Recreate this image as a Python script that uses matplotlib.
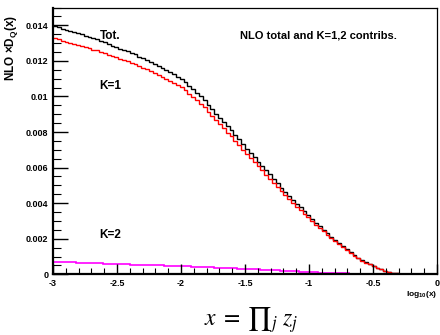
import numpy as np
import matplotlib
matplotlib.use("Agg")
import matplotlib.pyplot as plt
from matplotlib.ticker import MultipleLocator, FixedLocator, FixedFormatter

# ---------------- data ----------------
x_lo, x_hi, n_bins = -3.0, 0.0, 100

tot = [
    0.01398, 0.01392, 0.01380, 0.01376, 0.01368, 0.01362, 0.01355, 0.01350, 0.01340, 0.01334,
    0.01326, 0.01322, 0.01310, 0.01305, 0.01295, 0.01286, 0.01278, 0.01268, 0.01262, 0.01253,
    0.01245, 0.01236, 0.01224, 0.01214, 0.01206, 0.01193, 0.01184, 0.01172, 0.01160, 0.01146,
    0.01136, 0.01125, 0.01110, 0.01098, 0.01080, 0.01060, 0.01040, 0.01020, 0.01000, 0.00978,
    0.00950, 0.00928, 0.00903, 0.00880, 0.00858, 0.00832, 0.00810, 0.00785, 0.00758, 0.00732,
    0.00705, 0.00683, 0.00657, 0.00634, 0.00610, 0.00586, 0.00562, 0.00537, 0.00514, 0.00488,
    0.00465, 0.00442, 0.00420, 0.00397, 0.00376, 0.00354, 0.00333, 0.00311, 0.00290, 0.00270,
    0.00250, 0.00230, 0.00211, 0.00193, 0.00175, 0.00157, 0.00140, 0.00123, 0.00108, 0.00093,
    0.00080, 0.00068, 0.00058, 0.00048, 0.00038, 0.00029, 0.00021, 0.00014, 0.00009, 0.00005,
    0.00003, 0.00002, 0.00001, 0.0, 0.0, 0.0, 0.0, 0.0, 0.0, 0.0,
]

k1 = [
    0.01328, 0.01323, 0.01311, 0.01308, 0.01301, 0.01295, 0.01289, 0.01285, 0.01276, 0.01271,
    0.01263, 0.01260, 0.01249, 0.01245, 0.01235, 0.01227, 0.01220, 0.01210, 0.01205, 0.01197,
    0.01190, 0.01181, 0.01170, 0.01161, 0.01154, 0.01141, 0.01133, 0.01122, 0.01110, 0.01097,
    0.01088, 0.01078, 0.01063, 0.01052, 0.01035, 0.01016, 0.00997, 0.00978, 0.00959, 0.00938,
    0.00910, 0.00889, 0.00865, 0.00843, 0.00822, 0.00797, 0.00776, 0.00752, 0.00726, 0.00701,
    0.00675, 0.00654, 0.00629, 0.00607, 0.00584, 0.00561, 0.00538, 0.00514, 0.00492, 0.00468,
    0.00446, 0.00424, 0.00403, 0.00381, 0.00361, 0.00340, 0.00320, 0.00299, 0.00279, 0.00260,
    0.00241, 0.00222, 0.00204, 0.00186, 0.00169, 0.00152, 0.00135, 0.00119, 0.00104, 0.00090,
    0.00077, 0.00065, 0.00056, 0.00046, 0.00036, 0.00028, 0.00020, 0.00013, 0.00008, 0.00005,
    0.00003, 0.00002, 0.00001, 0.0, 0.0, 0.0, 0.0, 0.0, 0.0, 0.0,
]

k2 = [
    0.00070, 0.00069, 0.00069, 0.00068, 0.00067, 0.00067, 0.00066, 0.00065, 0.00064, 0.00063,
    0.00063, 0.00062, 0.00061, 0.00060, 0.00060, 0.00059, 0.00058, 0.00058, 0.00057, 0.00056,
    0.00055, 0.00055, 0.00054, 0.00053, 0.00052, 0.00052, 0.00051, 0.00050, 0.00050, 0.00049,
    0.00048, 0.00047, 0.00047, 0.00046, 0.00045, 0.00044, 0.00043, 0.00042, 0.00041, 0.00040,
    0.00040, 0.00039, 0.00038, 0.00037, 0.00036, 0.00035, 0.00034, 0.00033, 0.00032, 0.00031,
    0.00030, 0.00029, 0.00028, 0.00027, 0.00026, 0.00025, 0.00024, 0.00023, 0.00022, 0.00020,
    0.00019, 0.00018, 0.00017, 0.00016, 0.00015, 0.00014, 0.00013, 0.00012, 0.00011, 0.00010,
    0.00009, 0.00008, 0.00007, 0.00007, 0.00006, 0.00005, 0.00005, 0.00004, 0.00004, 0.00003,
    0.00003, 0.00003, 0.00002, 0.00002, 0.00002, 0.00001, 0.00001, 0.00001, 0.00001, 0.0,
    0.0, 0.0, 0.0, 0.0, 0.0, 0.0, 0.0, 0.0, 0.0, 0.0,
]

x_ticks = [-3, -2.5, -2, -1.5, -1, -0.5, 0]
x_tick_labels = ["-3", "-2.5", "-2", "-1.5", "-1", "-0.5", "0"]
y_ticks = [0, 0.002, 0.004, 0.006, 0.008, 0.010, 0.012, 0.014]
y_tick_labels = ["0", "0.002", "0.004", "0.006", "0.008", "0.01", "0.012", "0.014"]

# ---------------- style ----------------
FAM = ["Liberation Sans", "DejaVu Sans"]
plt.rcParams["font.family"] = FAM
plt.rcParams["mathtext.fontset"] = "custom"
plt.rcParams["mathtext.rm"] = "Liberation Sans:bold"
plt.rcParams["mathtext.bf"] = "Liberation Sans:bold"
plt.rcParams["mathtext.it"] = "Liberation Sans:bold"

W, H = 440, 335
fig = plt.figure(figsize=(W / 100, H / 100), dpi=100)
ax = fig.add_axes([53 / W, 1 - 274.3 / H, (437 - 53) / W, (274.3 - 7.5) / H])

edges = np.linspace(x_lo, x_hi, n_bins + 1)
ax.stairs(tot, edges, baseline=None, color="black", lw=1.0)
ax.stairs(k1, edges, baseline=None, color="#ff0000", lw=1.0)
ax.stairs(k2, edges, baseline=None, color="#ff00ff", lw=1.2)

ax.set_xlim(x_lo, x_hi)
ax.set_ylim(0, 0.015)

ax.xaxis.set_major_locator(FixedLocator(x_ticks))
ax.xaxis.set_major_formatter(FixedFormatter(x_tick_labels))
ax.xaxis.set_minor_locator(MultipleLocator(0.1))
ax.yaxis.set_major_locator(FixedLocator(y_ticks))
ax.yaxis.set_major_formatter(FixedFormatter(y_tick_labels))
ax.yaxis.set_minor_locator(MultipleLocator(0.0005))

ax.tick_params(axis="x", which="major", direction="in", length=7, width=1.0,
               labelsize=6.5, pad=3.5, top=False)
ax.tick_params(axis="x", which="minor", direction="in", length=4, width=0.8, top=False)
ax.tick_params(axis="y", which="major", direction="in", length=11, width=1.0,
               labelsize=6.5, pad=3.5, right=False)
ax.tick_params(axis="y", which="minor", direction="in", length=6, width=0.8, right=False)
for lab in ax.get_xticklabels() + ax.get_yticklabels():
    lab.set_fontweight("bold")

ax.spines["left"].set_linewidth(1.6)
ax.spines["bottom"].set_linewidth(1.6)
ax.spines["top"].set_linewidth(0.9)
ax.spines["right"].set_linewidth(0.9)

# axis titles (ROOT style, right/top aligned)
fig.text(12 / W, 1 - 48 / H, r"NLO $\times$D$_{\mathrm{Q}}$(x)", rotation=90,
         ha="center", va="center", fontsize=8.5, fontweight="bold")
fig.text(437 / W, 1 - 294 / H, r"log$_{\mathrm{10}}$(x)", ha="right", va="center",
         fontsize=6, fontweight="bold")

# labels inside the plot
fig.text(110 / W, 1 - 36 / H, "Tot.", ha="center", va="center", fontsize=8.5, fontweight="bold")
fig.text(110 / W, 1 - 86 / H, "K=1", ha="center", va="center", fontsize=8.5, fontweight="bold")
fig.text(110 / W, 1 - 235 / H, "K=2", ha="center", va="center", fontsize=8.5, fontweight="bold")
fig.text(318 / W, 1 - 35.5 / H, "NLO total and K=1,2 contribs.", ha="center", va="center",
         fontsize=8, fontweight="bold")

# formula below the plot
fig.text(251 / W, 1 - 320 / H, "$x\\;=\\;\u220f_j\\;z_j$", ha="center", va="center",
         fontsize=17, fontweight="normal", math_fontfamily="stix")

fig.savefig("out.png", dpi=100)
